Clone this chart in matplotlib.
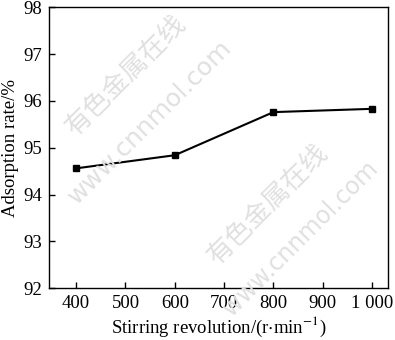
import matplotlib.pyplot as plt

# stirring revolution vs adsorption rate
speed = [400, 600, 800, 1000]
rate = [94.56, 94.84, 95.76, 95.83]
xticks = [400, 500, 600, 700, 800, 900, 1000]
xticklabels = ["400", "500", "600", "700", "800", "900", "1 000"]
yticks = [92, 93, 94, 95, 96, 97, 98]

plt.rcParams['font.family'] = ['Liberation Serif', 'DejaVu Serif']
plt.rcParams['mathtext.fontset'] = 'stix'

fig = plt.figure(figsize=(3.95, 3.4), dpi=100)
ax = fig.add_axes([0.124, 0.152, 0.858, 0.827])

# watermark
wm = dict(color='#e0e0e0', rotation=45, ha='center', va='center', zorder=0,
          transform=fig.transFigure)
fig.text(0.32, 0.78, "有色金属在线", fontsize=19, family=['Noto Sans CJK SC'], **wm)
fig.text(0.38, 0.64, "www.cnnmol.com", fontsize=18, family=['DejaVu Sans'], **wm)
fig.text(0.68, 0.40, "有色金属在线", fontsize=19, family=['Noto Sans CJK SC'], **wm)
fig.text(0.76, 0.30, "www.cnnmol.com", fontsize=17, family=['DejaVu Sans'], **wm)
ax.patch.set_alpha(0)

ax.plot(speed, rate, color='black', lw=1.5, marker='s', ms=5)

ax.set_xlim(345, 1032)
ax.set_ylim(92, 98)
ax.set_xticks(xticks)
ax.set_xticklabels(xticklabels)
ax.set_yticks(yticks)
ax.tick_params(direction='in', labelsize=13.5, length=4, width=1, pad=5)
for s in ax.spines.values():
    s.set_linewidth(1)

ax.set_xlabel(r"Stirring revolution/(r$\cdot$min$^{-1}$)", fontsize=13.5, labelpad=2)
ax.set_ylabel("Adsorption rate/%", fontsize=13.5, labelpad=3)

fig.savefig("out.png", dpi=100)
